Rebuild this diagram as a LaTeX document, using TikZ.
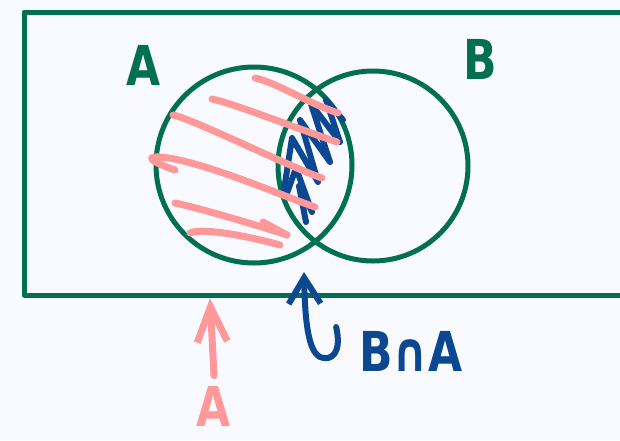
\documentclass[tikz,border=0pt]{standalone}
\usepackage{fontspec}
\setmainfont{DejaVu Sans}
\usepackage{graphicx}
\usetikzlibrary{arrows.meta,positioning,calc}
\definecolor{setGreen}  {RGB}{  0,112, 80}
\definecolor{shadePink} {RGB}{255,153,153}
\definecolor{meetBlue}  {RGB}{ 12, 72,146}
\definecolor{paperWhite}{RGB}{248,250,255}
\newcommand{\tallhand}[1]{\scalebox{1}[1.25]{#1}}

\begin{document}
\begin{tikzpicture}[x=1pt,y=-1pt,line cap=round,line join=round,
    setline/.style={setGreen,line width=5pt},
    setcircle/.style={circle,draw=setGreen,line width=5pt,inner sep=0pt},
    pinkstroke/.style={shadePink,line width=7pt},
    bluestroke/.style={meetBlue,line width=6pt},
    hand/.style={font=\fontsize{44}{44}\selectfont\bfseries,inner sep=0pt}]
  \fill[paperWhite] (0,0) rectangle (620,440);
  \useasboundingbox (0,0) rectangle (620,440);
  \clip (0,0) rectangle (620,440);
  % universe and the two sets
  \draw[setline] (640,12) -- (24,12) -- (24,295) -- (640,295);
  \node[setcircle,minimum size=196pt] (setA) at (254,165) {};
  \node[setcircle,minimum size=190pt] (setB) at (373,166) {};
  \node[hand,setGreen] (nameA) at (144,65) {\tallhand{A}};
  \node[hand,setGreen] (nameB) at (480,59) {\tallhand{B}};
  % B cap A scribble
  \draw[bluestroke] plot coordinates {(284,190) (292,138) (318,182) (300,120) (330,162) (311,104) (340,142) (326,100) (343,120)};
  \draw[bluestroke] plot coordinates {(286,196) (296,168) (312,212) (299,186) (306,222)};
  % A shading
  \foreach \sx/\sy/\ex/\ey in {255/78/338/113, 212/99/337/142, 173/115/322/178, 175/203/287/235}
    \draw[pinkstroke] (\sx,\sy) .. controls (\sx+20,\sy+4) and (\ex-30,\ey-10) .. (\ex,\ey);
  \draw[pinkstroke] (175,170) .. controls (160,165) and (140,156) .. (160,157)
    .. controls (200,160) and (280,195) .. (315,207);
  \draw[pinkstroke] (263,222) -- (287,235);
  \draw[pinkstroke] (190,233) .. controls (200,228) and (240,234) .. (280,245);
  % labels below
  \node[hand,shadePink] (labelA) at (214,406) {\tallhand{A}};
  \node[hand,meetBlue] (meet) at (411,351) {\tallhand{B∩A}};
  \coordinate (edgeA) at (210,298);
  \coordinate (edgeMeet) at (304,272);
  \draw[pinkstroke,-{Straight Barb[length=35pt,width=30pt]}] ([yshift=10pt]labelA.north) -- (edgeA);
  \draw[bluestroke,-{Straight Barb[length=26pt,width=32pt]}] ([xshift=-23pt,yshift=24pt]meet.west)
    .. controls (342,352) and (332,362) .. (320,357)
    .. controls (308,351) and (305,320) .. (edgeMeet);
\end{tikzpicture}
\end{document}
